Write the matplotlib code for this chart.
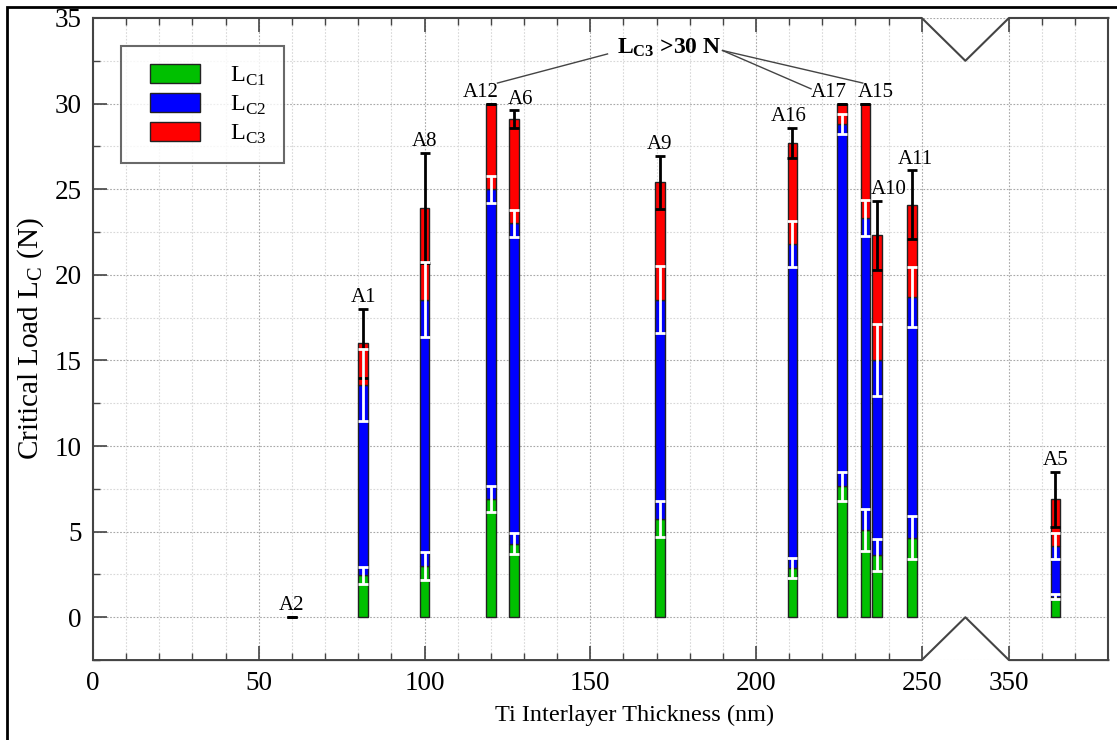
import matplotlib
matplotlib.use("Agg")
import matplotlib.pyplot as plt
import numpy as np
from matplotlib.patches import Patch, Rectangle
from matplotlib.legend_handler import HandlerPatch

plt.rcParams['font.family'] = ['Liberation Serif', 'DejaVu Serif']
plt.rcParams['mathtext.fontset'] = 'custom'
plt.rcParams['mathtext.rm'] = 'Liberation Serif'
plt.rcParams['mathtext.bf'] = 'Liberation Serif:bold'

# samples, Ti interlayer thickness (nm) and critical loads (N)
samples = ["A2", "A1", "A8", "A12", "A6", "A9", "A16", "A17", "A15", "A10", "A11", "A5"]
thickness = [60, 81.5, 100, 120, 127, 171, 211, 226, 233, 236.5, 247, 364]
lc1 = [0, 2.45, 3.0, 6.9, 4.3, 5.75, 2.9, 7.65, 5.1, 3.65, 4.65, 1.2]
lc2 = [0, 13.55, 18.55, 25.0, 23.0, 18.55, 21.8, 28.8, 23.3, 15.0, 18.7, 4.15]
lc3 = [0, 16.0, 23.9, 30.0, 29.1, 25.4, 27.7, 30.0, 30.0, 22.3, 24.1, 6.9]
lc1_err = [0, 0.5, 0.8, 0.75, 0.6, 1.05, 0.58, 0.85, 1.25, 0.95, 1.25, 0.15]
lc2_err = [0, 2.1, 2.2, 0.8, 0.8, 1.95, 1.35, 0.57, 1.05, 2.1, 1.75, 0.75]
lc3_err = [0, 2.0, 3.2, 0, 0.5, 1.55, 0.9, 0, 0, 2.0, 2.0, 1.6]

# label nudges (nm) so neighbouring labels do not collide
label_dx = {"A12": -3, "A6": 2, "A16": -1, "A17": -4, "A15": 3, "A10": 3.5, "A11": 1}

GAP = 26.3      # width of the 250..350 axis break on the plot
BAR_W = 2.9


def xpos(x):
    x = np.asarray(x, dtype=float)
    return np.where(x <= 250, x, x - 350 + 250 + GAP)


xp = xpos(thickness)
x_end = float(xpos(380))

fig = plt.figure(figsize=(11.17, 7.4), dpi=100)
ax = fig.add_axes([0.0833, 0.108, 0.909, 0.8677])

green, blue, red = "#00C000", "#0000FF", "#FF0000"
edge = dict(edgecolor="#222222", linewidth=1.0, zorder=3)
b1 = np.array(lc1)
b2 = np.array(lc2) - b1
b3 = np.array(lc3) - np.array(lc2)
ax.bar(xp, b1, BAR_W, color=green, **edge)
ax.bar(xp, b2, BAR_W, bottom=b1, color=blue, **edge)
ax.bar(xp, b3, BAR_W, bottom=lc2, color=red, **edge)

err = dict(fmt="none", capsize=3.4, capthick=2, elinewidth=2)
ax.errorbar(xp, lc3, yerr=lc3_err, ecolor="black", zorder=4, **err)
for vals, errs in ((lc2, lc2_err), (lc1, lc1_err)):
    keep = np.array(errs) > 0
    ax.errorbar(xp[keep], np.array(vals)[keep], yerr=np.array(errs)[keep],
                ecolor="white", zorder=5, **err)

for name, x, top, e in zip(samples, xp, lc3, lc3_err):
    ax.text(x + label_dx.get(name, 0), top + e + 0.4, name, ha="center",
            va="baseline", fontsize=15, zorder=6)

# annotation for the bars that did not fail
ax.text(173.7, 33.25, r"$\mathbf{L_{C3}}$ >30 N", ha="center", va="center",
        fontsize=17, fontweight="bold", zorder=6)
ann_line = dict(color="#444444", lw=1.0, zorder=6)
ax.plot([155.2, 122.0], [32.9, 31.2], **ann_line)
ax.plot([189.9, 216.6], [33.1, 30.86], **ann_line)
ax.plot([189.9, 232.2], [33.1, 31.2], **ann_line)

# axes
ax.set_xlim(0, x_end)
ax.set_ylim(-2.5, 35)
major_x = [0, 50, 100, 150, 200, 250, 350]
minor_x = [v for v in range(10, 250, 10) if v % 50] + [360, 370]
ax.set_xticks(xpos(major_x))
ax.set_xticklabels([str(v) for v in major_x])
ax.set_xticks(xpos(minor_x), minor=True)
ax.set_yticks(np.arange(0, 36, 5))
ax.set_yticks(np.arange(-2.5, 35, 2.5), minor=True)
ax.tick_params(which="both", direction="in", top=True, right=False,
               labelsize=19.5, color="#444444", pad=8)
ax.tick_params(which="major", length=10, width=1.2)
ax.tick_params(which="minor", length=5, width=1.0)

ax.grid(which="major", color="#a8a8a8", linestyle=(0, (1.5, 1.5)), linewidth=0.8)
ax.grid(which="minor", color="#d8d8d8", linestyle=(0, (1.5, 1.5)), linewidth=0.8)
ax.set_axisbelow(True)

for s in ("left", "right"):
    ax.spines[s].set_color("#444444")
    ax.spines[s].set_linewidth(1.5)
ax.spines["top"].set_visible(False)
ax.spines["bottom"].set_visible(False)

# broken top and bottom spines with V notches
b0, b1x = 250, 250 + GAP
mid = (b0 + b1x) / 2
frame = dict(color="#444444", lw=1.5, clip_on=False, zorder=7)
ax.plot([0, b0, mid, b1x, x_end], [35, 35, 32.5, 35, 35], **frame)
ax.plot([0, b0, mid, b1x, x_end], [-2.5, -2.5, 0, -2.5, -2.5], **frame)

ax.set_xlabel("Ti Interlayer Thickness (nm)", fontsize=17.5)
ax.xaxis.set_label_coords(0.533, -0.07)
ax.set_ylabel(r"Critical Load L$_{\mathrm{C}}$ (N)", fontsize=21, labelpad=6)


def shifted_patch(legend, orig_handle, xdescent, ydescent, width, height, fontsize):
    # leave some empty room left of the colour swatch
    return Rectangle((-xdescent + 0.18 * width, -ydescent), 0.82 * width, height)


handles = [Patch(facecolor=c, edgecolor="#222222", linewidth=1.0) for c in (green, blue, red)]
labels = [r"L$_{\mathrm{C1}}$", r"L$_{\mathrm{C2}}$", r"L$_{\mathrm{C3}}$"]
leg = ax.legend(handles, labels, loc="upper left", bbox_to_anchor=(0.0276, 0.956),
                fontsize=17.5, frameon=True, fancybox=False, edgecolor="#444444",
                handlelength=2.51, handleheight=0.82, handletextpad=1.25,
                borderpad=0.72, borderaxespad=0, labelspacing=0.2,
                handler_map={Patch: HandlerPatch(patch_func=shifted_patch)})
leg.get_frame().set_linewidth(1.5)
leg.set_zorder(8)

# outer picture border
fig.add_artist(Rectangle((7 / 1117, -0.1), 1.2, 1.1 - 7 / 740, fill=False,
                         edgecolor="black", linewidth=2, transform=fig.transFigure))

fig.savefig("out.png", dpi=100)
